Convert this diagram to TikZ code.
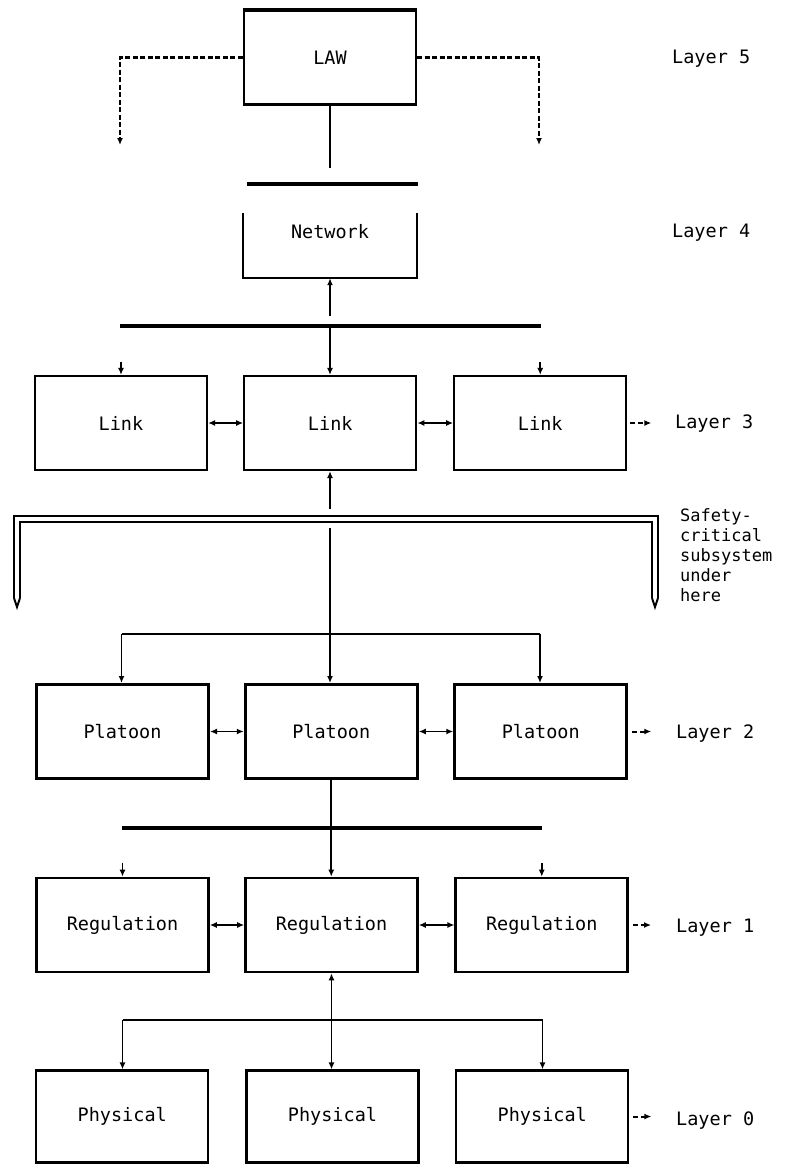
\documentclass[tikz,border=0pt]{standalone}
\usepackage{fontspec}
\usetikzlibrary{arrows.meta}
\newfontfamily\plotfont{DejaVu Sans Mono}
\newcommand\plotfnt{\plotfont\fontsize{18.5}{19}\selectfont}
\newcommand\plotfntsmall{\plotfont\fontsize{17}{20}\selectfont}
\begin{document}
\begin{tikzpicture}[x=1pt,y=-1pt,
  box/.style={draw, line width=2.2pt, minimum width=172pt, minimum height=94pt, inner sep=0pt, font=\plotfnt},
  heavybox/.style={box, line width=3pt},
  conn/.style={line width=1.7pt},
  arr/.style={conn, -{Latex[length=7pt,width=6pt]}},
  darr/.style={conn, {Latex[length=7pt,width=6pt]}-{Latex[length=7pt,width=6pt]}},
  bar/.style={line width=3.8pt},
  bus/.style={line width=2.6pt},
  lawdash/.style={line width=2.2pt, dash pattern=on 5pt off 2.5pt, -{Latex[length=7pt,width=6pt]}},
  sidedash/.style={line width=2pt, dash pattern=on 5pt off 3pt, -{Latex[length=7pt,width=6pt]}},
  layer/.style={anchor=base west, inner sep=0pt, font=\plotfnt},
  plain/.style={inner sep=0pt, font=\plotfnt}
]
\useasboundingbox[fill=white] (0,0) rectangle (787,1165);

% ---------- Layer 5 ----------
\node[box] (law) at (330,57.5) {LAW};
\draw[line width=3.8pt] (law.north west) -- (law.north east);
\coordinate (lawL) at (120,145);
\coordinate (lawR) at (539,145);
\draw[lawdash] (law.west) -| (lawL);
\draw[lawdash] (law.east) -| (lawR);
\coordinate (lawS) at (330,168);
\draw[conn] (law.south) -- (lawS);
\node[layer] (lay5) at (672,63) {Layer 5};

% ---------- Layer 4 ----------
\coordinate (b4L) at (246.5,184);
\coordinate (b4R) at (417.5,184);
\draw[bar] (b4L) -- (b4R);
\node[minimum width=174pt, minimum height=65pt, inner sep=0pt] (net) at (330,245.5) {};
\draw[line width=2.2pt] (net.north west) -- (net.south west) -- (net.south east) -- (net.north east);
\node[plain] (nettext) at (330,232) {Network};
\node[layer] (lay4) at (672,237) {Layer 4};
\coordinate (b3up) at (330,316);
\draw[arr] (b3up) -- (b3up |- net.south);

% ---------- Layer 3 ----------
\coordinate (b3L) at (120,326);
\coordinate (b3R) at (541,326);
\coordinate (b3C) at (330,326);
\draw[bar] (b3L) -- (b3R);
\node[box] (linkL) at (121,423) {Link};
\node[box] (linkM) at (330.25,423) {Link};
\node[box] (linkR) at (540.25,423) {Link};
\draw[arr] (b3C) -- (b3C |- linkM.north);
\draw[arr] ([yshift=13pt]linkL.north) -- (linkL.north);
\draw[arr] ([yshift=13pt]linkR.north) -- (linkR.north);
\draw[darr] (linkL.east) -- (linkM.west);
\draw[darr] (linkM.east) -- (linkR.west);
\draw[sidedash] ([xshift=3pt]linkR.east) -- ([xshift=24pt]linkR.east);
\node[layer] (lay3) at (675,428) {Layer 3};
\coordinate (upA) at (330,509);
\draw[arr] (upA) -- (upA |- linkM.south);

% ---------- safety-critical boundary ----------
\coordinate (scL) at (17,598);
\coordinate (scTL) at (17,519);
\coordinate (scTR) at (655,519);
\coordinate (scR) at (655,598);
\draw[line width=2pt, double=white, double distance=4pt] (scL) -- (scTL) -- (scTR) -- (scR);
\draw[line width=2pt, line join=miter] ([xshift=-3pt]scL) -- ([yshift=-9pt]scL) -- ([xshift=3pt]scL);
\draw[line width=2pt, line join=miter] ([xshift=-3pt]scR) -- ([yshift=-9pt]scR) -- ([xshift=3pt]scR);
\node[anchor=north west, inner sep=0pt, align=left, font=\plotfntsmall] (safety) at (680,508)
  {Safety-\\critical\\subsystem\\under\\here};

% ---------- Layer 2 ----------
\coordinate (downA) at (330,528);
\node[heavybox] (platL) at (122.5,731.5) {Platoon};
\node[heavybox] (platM) at (331.25,731.5) {Platoon};
\node[heavybox] (platR) at (540.75,731.5) {Platoon};
\draw[arr] (downA) -- (downA |- platM.north);
\coordinate (bus2L) at (121.5,634);
\coordinate (bus2R) at (540,634);
\draw[bus] (bus2L) -- (bus2R);
\draw[arr] (bus2L) -- (bus2L |- platL.north);
\draw[arr] (bus2R) -- (bus2R |- platR.north);
\draw[darr] (platL.east) -- (platM.west);
\draw[darr] (platM.east) -- (platR.west);
\draw[sidedash] ([xshift=4pt]platR.east) -- ([xshift=23pt]platR.east);
\node[layer] (lay2) at (676,738) {Layer 2};

% ---------- Layer 1 ----------
\coordinate (b1L) at (121.5,828);
\coordinate (b1R) at (541.5,828);
\draw[bar, line width=3.2pt] (b1L) -- (b1R);
\node[box, line width=2.6pt] (regL) at (122.5,925) {Regulation};
\node[box, line width=2.6pt] (regM) at (331.5,925) {Regulation};
\node[box, line width=2.6pt] (regR) at (541.75,925) {Regulation};
\draw[arr] (platM.south) -- (platM.south |- regM.north);
\draw[arr] ([yshift=14pt]regL.north) -- (regL.north);
\draw[arr] ([yshift=14pt]regR.north) -- (regR.north);
\draw[darr] (regL.east) -- (regM.west);
\draw[darr] (regM.east) -- (regR.west);
\draw[sidedash] ([xshift=4pt]regR.east) -- ([xshift=22pt]regR.east);
\node[layer] (lay1) at (676,932) {Layer 1};

% ---------- Layer 0 ----------
\node[box, minimum height=92pt] (physL) at (122.25,1116.5) {Physical};
\node[box, minimum height=92pt] (physM) at (332.5,1116.5) {Physical};
\node[box, minimum height=92pt] (physR) at (542.25,1116.5) {Physical};
\draw[darr] (regM.south) -- (regM.south |- physM.north);
\coordinate (bus0L) at (122.5,1020);
\coordinate (bus0R) at (542.5,1020);
\draw[bus, line width=2.2pt] (bus0L) -- (bus0R);
\draw[arr] (bus0L) -- (bus0L |- physL.north);
\draw[arr] (bus0R) -- (bus0R |- physR.north);
\draw[sidedash] ([xshift=4pt]physR.east) -- ([xshift=22pt]physR.east);
\node[layer] (lay0) at (676,1125) {Layer 0};
\end{tikzpicture}
\end{document}
